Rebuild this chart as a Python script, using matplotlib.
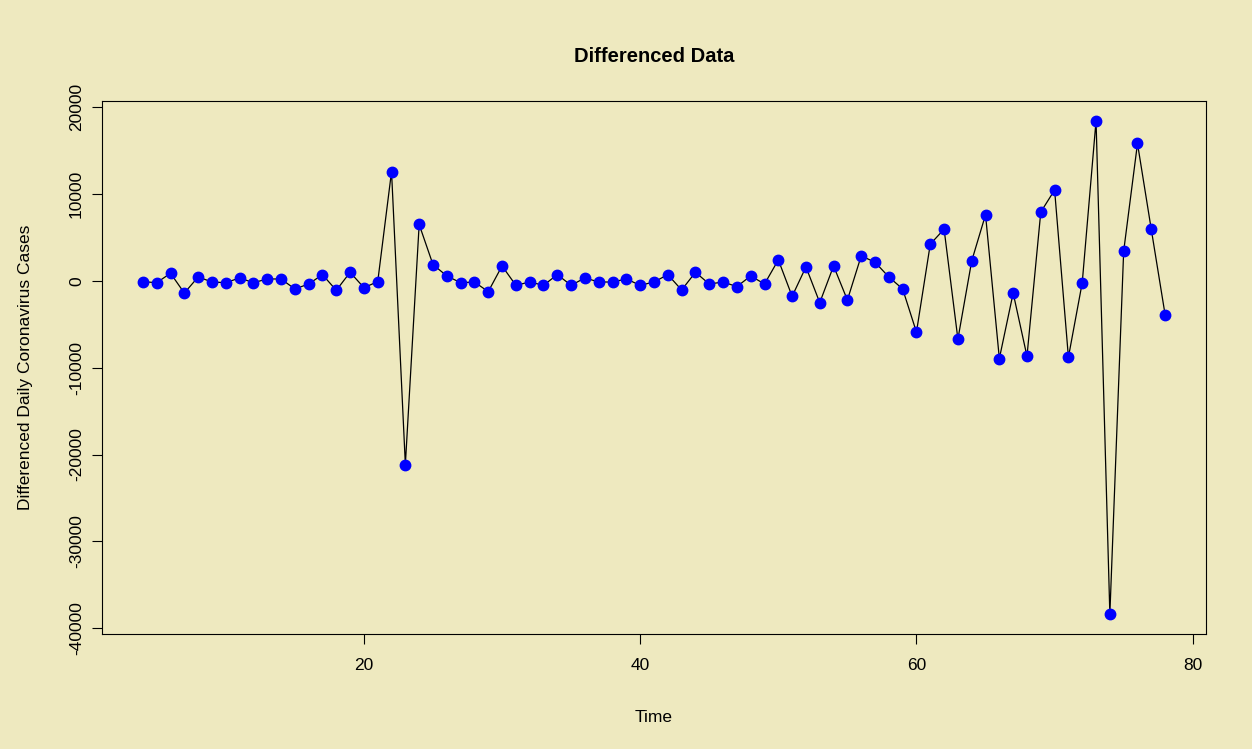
import numpy as np
import matplotlib
matplotlib.use("Agg")
import matplotlib.pyplot as plt

# datos
tiempo = np.arange(4, 79)
diferencias = [
    -80, -200, 890, -1390, 460, -115, -200, 350, -200, 230,
    230, -920, -350, 730, -1080, 1000, -770, -80, 12600, -21150,
    6510, 1890, 580, -200, -120, -1230, 1730, -500, -120, -500,
    730, -500, 350, -120, -120, 230, -500, -120, 730, -1040,
    1000, -350, -120, -650, 580, -350, 2430, -1770, 1620, -2500,
    1730, -2200, 2890, 2160, 460, -920, -5900, 4240, 5970, -6700,
    2310, 7630, -8940, -1390, -8670, 7940, 10480, -8790, -200, 18460,
    -38400, 3430, 15840, 5930, -3890,
]
xticks = [20, 40, 60, 80]
yticks = [-40000, -30000, -20000, -10000, 0, 10000, 20000]

fondo = "#EEE9BF"
plt.rcParams["font.family"] = ["Liberation Sans", "DejaVu Sans"]

fig = plt.figure(figsize=(12.52, 7.49), dpi=100, facecolor=fondo)
ax = fig.add_axes([102 / 1252, 1 - 634 / 749, (1206 - 102) / 1252, (634 - 101) / 749])
ax.set_facecolor(fondo)

ax.plot(tiempo, diferencias, color="black", linewidth=0.9, zorder=2)
ax.plot(tiempo, diferencias, "o", color="blue", markersize=7.5, zorder=3)

# rangos al estilo R (4% extra)
x0, x1 = tiempo.min(), tiempo.max()
y0, y1 = min(diferencias), max(diferencias)
dx, dy = (x1 - x0) * 0.04, (y1 - y0) * 0.04
ax.set_xlim(x0 - dx, x1 + dx)
ax.set_ylim(y0 - dy, y1 + dy)

ax.set_xticks(xticks)
ax.set_yticks(yticks)
ax.set_yticklabels([str(v) for v in yticks], rotation=90, va="center")
ax.tick_params(direction="out", length=7, width=0.8, labelsize=12.5)
ax.tick_params(axis="x", pad=10)
ax.tick_params(axis="y", pad=6)
for s in ax.spines.values():
    s.set_linewidth(0.8)

ax.set_title("Differenced Data", fontsize=14.5, fontweight="bold", pad=28)
ax.set_xlabel("Time", fontsize=12.5, labelpad=27)
ax.set_ylabel("Differenced Daily Coronavirus Cases", fontsize=12.5, labelpad=26)

fig.savefig("out.png", dpi=100, facecolor=fondo)
